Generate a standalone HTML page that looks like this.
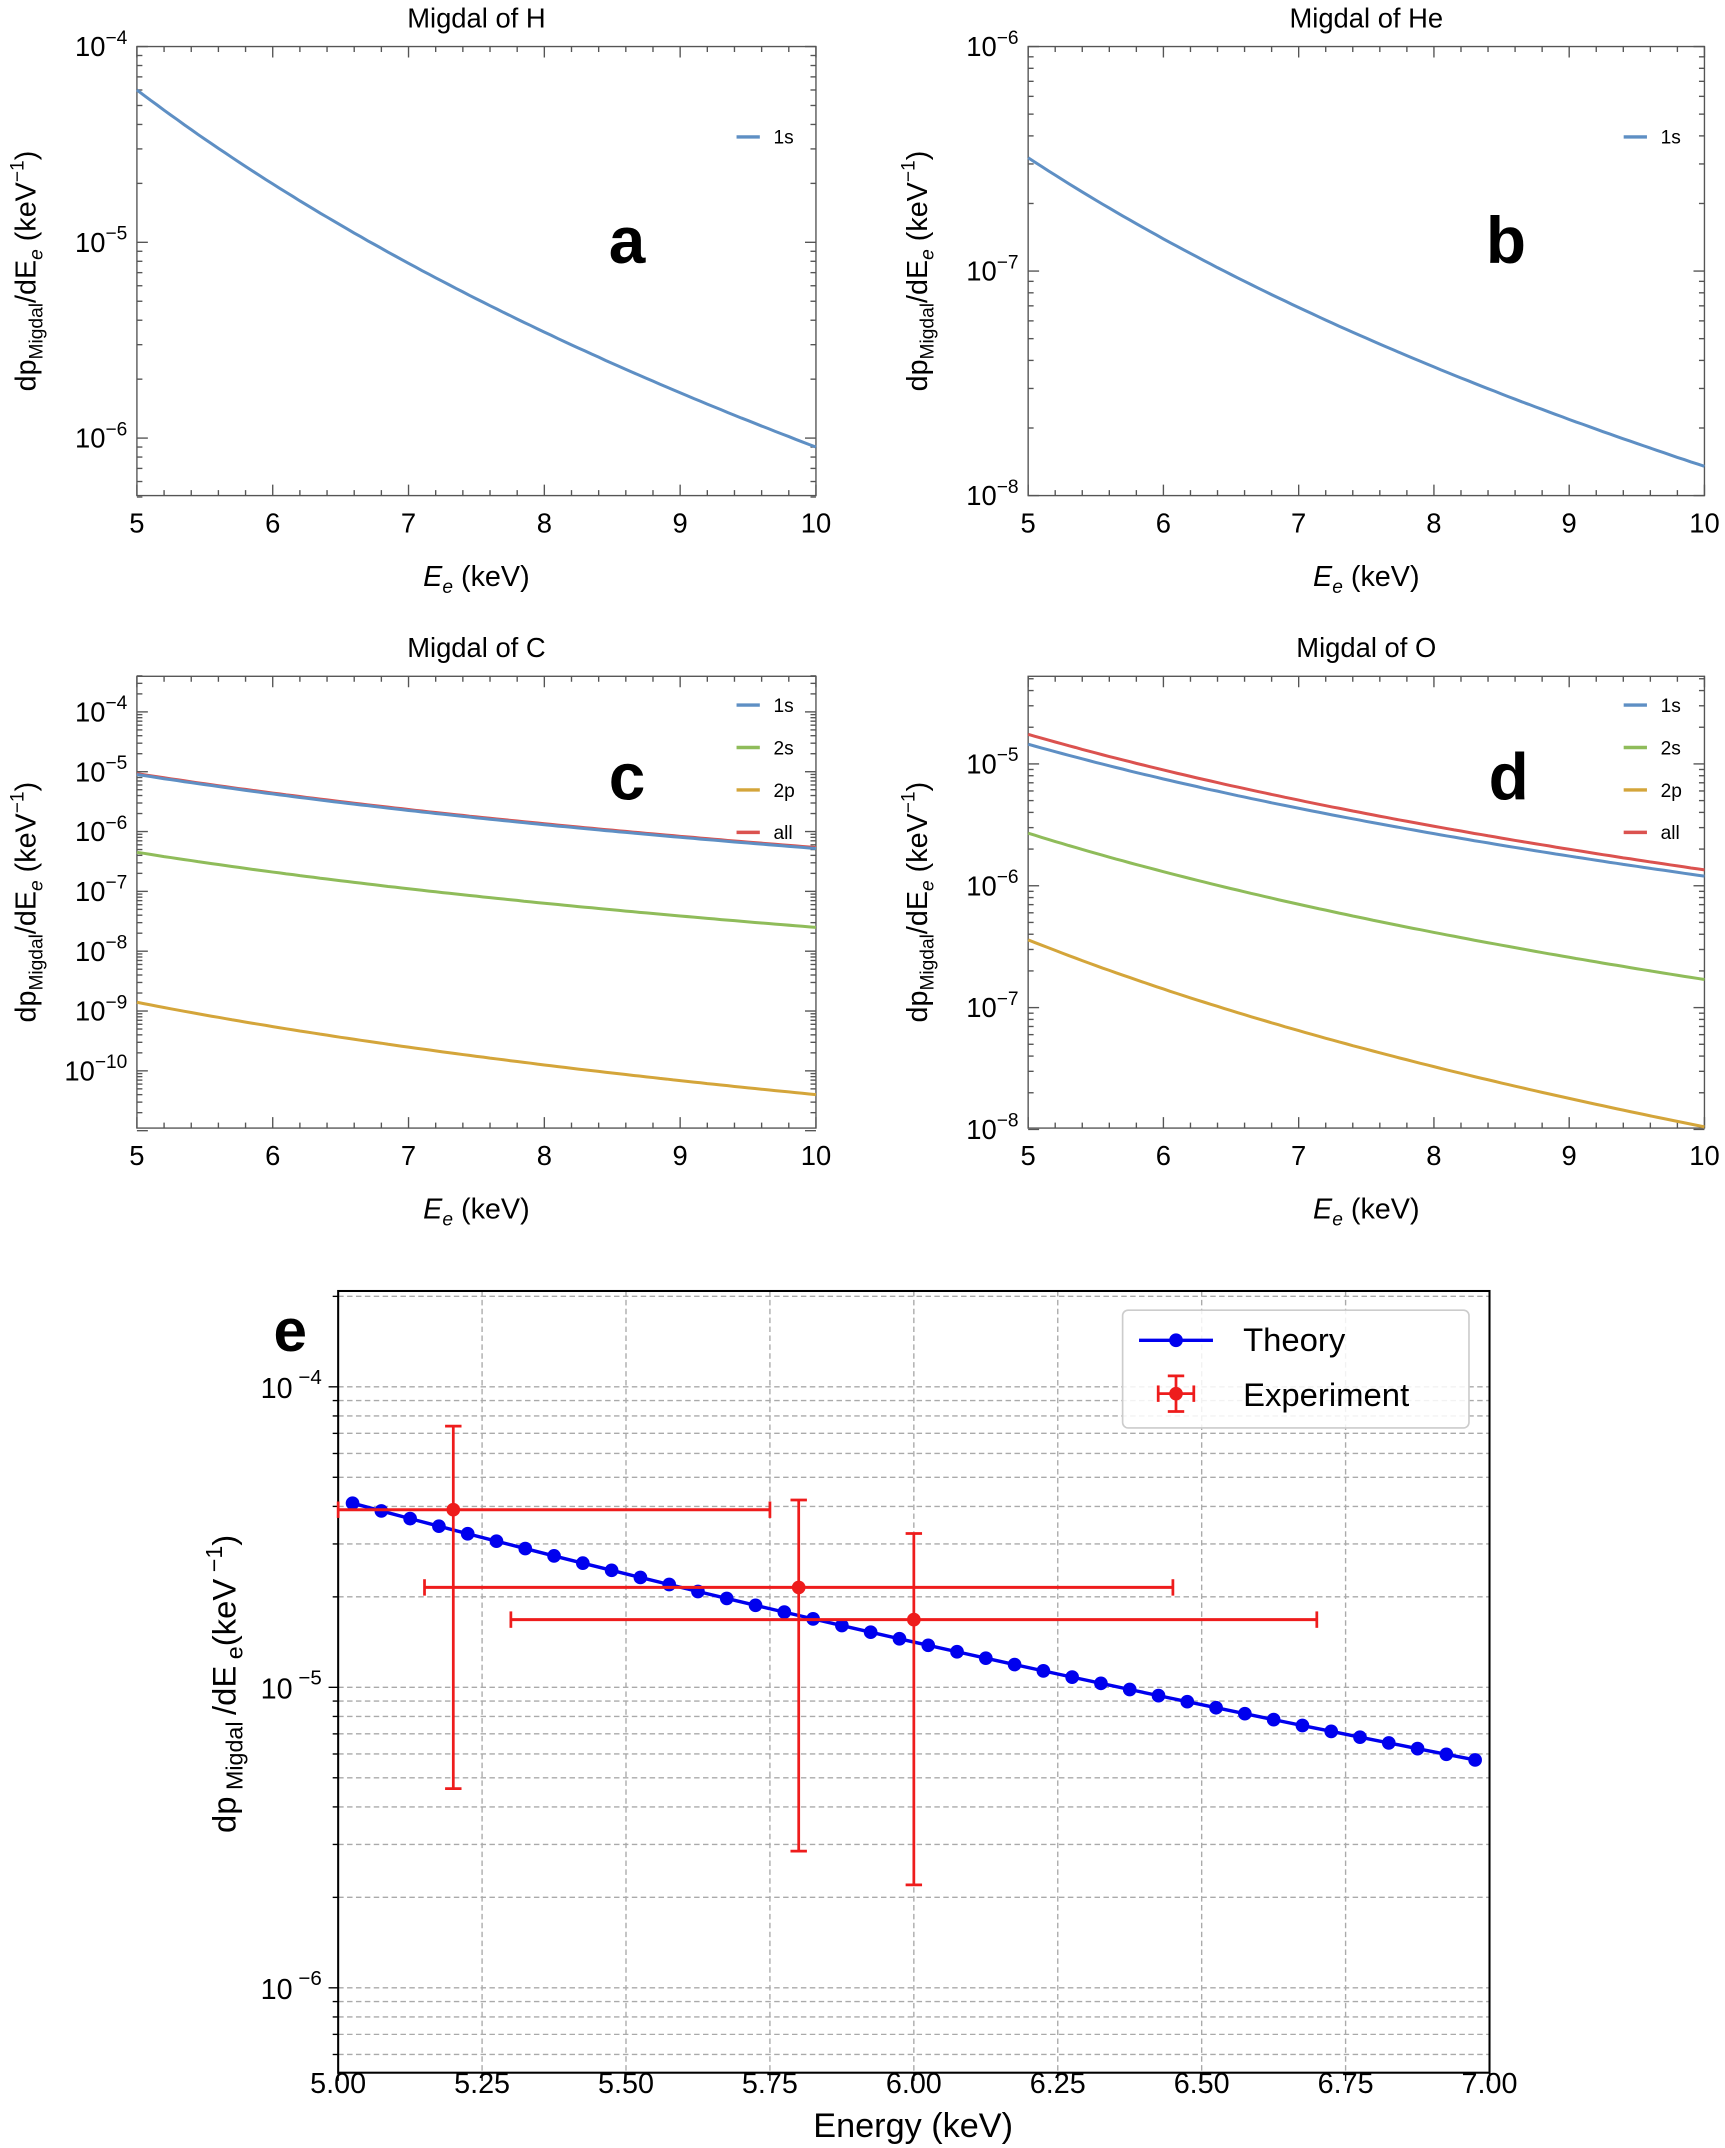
<!DOCTYPE html>
<html><head><meta charset="utf-8"><style>
html,body{margin:0;padding:0;background:#fff}
svg{display:block}
text{font-family:"Liberation Sans",sans-serif;fill:#000}
</style></head><body>
<svg id="s" width="1725" height="2148" viewBox="0 0 1260 1569" xmlns="http://www.w3.org/2000/svg">
<rect width="1260" height="1569" fill="#fff"/>
</svg>
<script>
const S=document.getElementById('s'),NS='http://www.w3.org/2000/svg';
function el(t,a,txt){const e=document.createElementNS(NS,t);for(const k in a)e.setAttribute(k,a[k]);if(txt!==undefined)e.innerHTML=txt;S.appendChild(e);return e;}
function line(x1,y1,x2,y2,c,w,extra){return el('line',Object.assign({x1,y1,x2,y2,stroke:c,'stroke-width':w},extra||{}));}
const L10=Math.log10;
function panel(o){
 const {x0,x1,y0,y1}=o,dec=o.dec;
 const Y=v=>o.yref+(o.lref-L10(v))*dec;
 const X=e=>x0+(e-5)/5*(x1-x0);
 el('rect',{x:x0,y:y0,width:x1-x0,height:y1-y0,fill:'none',stroke:'#555','stroke-width':1});
 for(let e=5;e<=10.001;e+=0.2){const major=Math.abs(e-Math.round(e))<1e-6;const len=major?8:4;
  line(X(e),y1,X(e),y1-len,'#555',1);line(X(e),y0,X(e),y0+len,'#555',1);
  if(major)el('text',{x:X(e),y:y1+27,'font-size':20,'text-anchor':'middle'},Math.round(e));}
 for(let d=o.dmin;d<=o.dmax;d++){for(let m=1;m<10;m++){const v=m*Math.pow(10,d);const y=Y(v);if(y<y0-2||y>y1+2)continue;
  const len=m==1?8:4;line(x0,y,x0+len,y,'#555',1);line(x1,y,x1-len,y,'#555',1);
  if(m==1&&o.labels.includes(d))el('text',{x:x0-7,y:y+7,'font-size':20,'text-anchor':'end'},'10<tspan dy="-9" font-size="14">'+(d<0?'\u2212'+(-d):d)+'</tspan>');}}
 for(const c of o.curves){let p=[];const n=Math.log(c.a/c.b)/Math.log(2);
  for(let i=0;i<=100;i++){const e=5+i*0.05;p.push(X(e).toFixed(1)+','+Y(c.a*Math.pow(5/e,n)).toFixed(1));}
  el('polyline',{points:p.join(' '),fill:'none',stroke:c.col,'stroke-width':2.2});}
 o.leg.forEach((l,i)=>{const y=o.legy+i*31;line(1186-(o.lx||0),y,1203-(o.lx||0),y,l[1],2.5);el('text',{x:1213-(o.lx||0),y:y+5,'font-size':14},l[0]);});
 el('text',{x:(x0+x1)/2,y:y0-14,'font-size':20,'text-anchor':'middle'},o.title);
 el('text',{x:(x0+x1)/2,y:y1+66,'font-size':21,'text-anchor':'middle'},'<tspan font-style="italic">E</tspan><tspan font-style="italic" font-size="14" dy="5">e</tspan><tspan dy="-5"> (keV)</tspan>');
 const cy=(y0+y1)/2;
 el('text',{x:0,y:0,'font-size':21,'text-anchor':'middle',transform:`translate(${x0-74},${cy}) rotate(-90)`},'dp<tspan font-size="14" dy="5">Migdal</tspan><tspan dy="-5">/dE</tspan><tspan font-style="italic" font-size="14" dy="5">e</tspan><tspan dy="-5"> (keV</tspan><tspan font-size="14" dy="-9">\u22121</tspan><tspan dy="9">)</tspan>');
 el('text',{x:o.lt[0],y:o.lt[1],'font-size':48,'font-weight':'bold','text-anchor':'middle'},o.letter);
}
const BL='#5e8fc4',GR='#8fbc5a',GD='#d4a53a',RD='#db524f';
panel({x0:100,x1:596,y0:34,y1:362,yref:34,lref:-4,dec:143,dmin:-7,dmax:-4,labels:[-4,-5,-6],
 curves:[{a:6e-5,b:9e-7,col:BL}],leg:[['1s',BL]],legy:100,lx:648,title:'Migdal of H',letter:'a',lt:[458,192]});
panel({x0:751,x1:1245,y0:34,y1:362,yref:34,lref:-6,dec:164,dmin:-8,dmax:-6,labels:[-6,-7,-8],
 curves:[{a:3.2e-7,b:1.35e-8,col:BL}],leg:[['1s',BL]],legy:100,title:'Migdal of He',letter:'b',lt:[1100,192]});
panel({x0:100,x1:596,y0:494,y1:824,yref:520,lref:-4,dec:43.7,dmin:-12,dmax:-3,labels:[-4,-5,-6,-7,-8,-9,-10],
 curves:[{a:4.5e-7,b:2.5e-8,col:GR},{a:1.4e-9,b:4e-11,col:GD},{a:9.3e-6,b:5.4e-7,col:RD},{a:9e-6,b:5.2e-7,col:BL}],
 leg:[['1s',BL],['2s',GR],['2p',GD],['all',RD]],legy:515,lx:648,title:'Migdal of C',letter:'c',lt:[458,584]});
panel({x0:751,x1:1245,y0:494,y1:824,yref:558,lref:-5,dec:89,dmin:-9,dmax:-4,labels:[-5,-6,-7,-8],
 curves:[{a:2.7e-6,b:1.7e-7,col:GR},{a:3.6e-7,b:1.05e-8,col:GD},{a:1.75e-5,b:1.35e-6,col:RD},{a:1.45e-5,b:1.2e-6,col:BL}],
 leg:[['1s',BL],['2s',GR],['2p',GD],['all',RD]],legy:515,title:'Migdal of O',letter:'d',lt:[1102,584]});
(function(){
 const x0=247,x1=1088,y0=943,y1=1514;
 const X=e=>x0+(e-5)/2*(x1-x0),Y=v=>1013+(-4-L10(v))*219.5;
 for(let d=-7;d<=-3;d++)for(let m=1;m<10;m++){const y=Y(m*Math.pow(10,d));if(y<y0||y>y1)continue;line(x0,y,x1,y,'#aaa',1,{'stroke-dasharray':'4,2.5'});
  line(x0,y,x0-(m==1?7:4),y,'#000',1);
  if(m==1)el('text',{x:x0-12,y:y+8,'font-size':21,'text-anchor':'end'},'10<tspan dy="-10" font-size="15"> \u2212'+(-d)+'</tspan>');}
 for(let i=0;i<=8;i++){const e=5+i*0.25,x=X(e);if(i>0&&i<8)line(x,y0,x,y1,'#aaa',1,{'stroke-dasharray':'4,2.5'});
  line(x,y1,x,y1+6,'#000',1);el('text',{x:x,y:y1+15,'font-size':21,'text-anchor':'middle'},e.toFixed(2));}
 el('rect',{x:x0,y:y0,width:x1-x0,height:y1-y0,fill:'none',stroke:'#000','stroke-width':1.5});
 let p=[];for(let k=0;k<40;k++){const e=5.025+0.05*k;const v=4.1e-5*Math.pow(5.025/e,6.0);p.push([X(e),Y(v)]);}
 el('polyline',{points:p.map(a=>a.join(',')).join(' '),fill:'none',stroke:'#0000ee','stroke-width':2.5});
 p.forEach(a=>el('circle',{cx:a[0],cy:a[1],r:5,fill:'#0000ee'}));
 const R='#ee1c1c';
 [[5.2,3.9e-5,5.0,5.75,4.6e-6,7.4e-5],[5.8,2.15e-5,5.15,6.45,2.85e-6,4.2e-5],[6.0,1.68e-5,5.3,6.7,2.2e-6,3.25e-5]].forEach(d=>{
  const x=X(d[0]),y=Y(d[1]),xa=X(d[2]),xb=X(d[3]),ya=Y(d[4]),yb=Y(d[5]);
  line(xa,y,xb,y,R,2.2);line(x,ya,x,yb,R,2);
  line(xa,y-6,xa,y+6,R,2);line(xb,y-6,xb,y+6,R,2);line(x-6,ya,x+6,ya,R,2);line(x-6,yb,x+6,yb,R,2);
  el('circle',{cx:x,cy:y,r:5,fill:R});});
 el('rect',{x:820,y:957,width:253,height:86,rx:4,fill:'#fff','fill-opacity':0.85,stroke:'#ccc','stroke-width':1.2});
 line(832,979,886,979,'#0000ee',2.5);el('circle',{cx:859,cy:979,r:5,fill:'#0000ee'});
 el('text',{x:908,y:987,'font-size':24},'Theory');
 line(846,1018,872,1018,R,2);line(859,1005,859,1031,R,2);line(846,1012,846,1024,R,2);line(872,1012,872,1024,R,2);
 line(853,1005,865,1005,R,2);line(853,1031,865,1031,R,2);el('circle',{cx:859,cy:1018,r:5,fill:R});
 el('text',{x:908,y:1027,'font-size':24},'Experiment');
 el('text',{x:212,y:987,'font-size':44,'font-weight':'bold','text-anchor':'middle'},'e');
 el('text',{x:667,y:1561,'font-size':25,'text-anchor':'middle'},'Energy (keV)');
 el('text',{x:0,y:0,'font-size':24,'text-anchor':'middle',transform:'translate(172,1230) rotate(-90)'},'dp<tspan font-size="17" dy="5"> Migdal </tspan><tspan dy="-5">/dE</tspan><tspan font-size="17" dy="5"> e</tspan><tspan dy="-5">(keV</tspan><tspan font-size="17" dy="-10"> \u22121</tspan><tspan dy="10">)</tspan>');
})();
</script>
</body></html>
